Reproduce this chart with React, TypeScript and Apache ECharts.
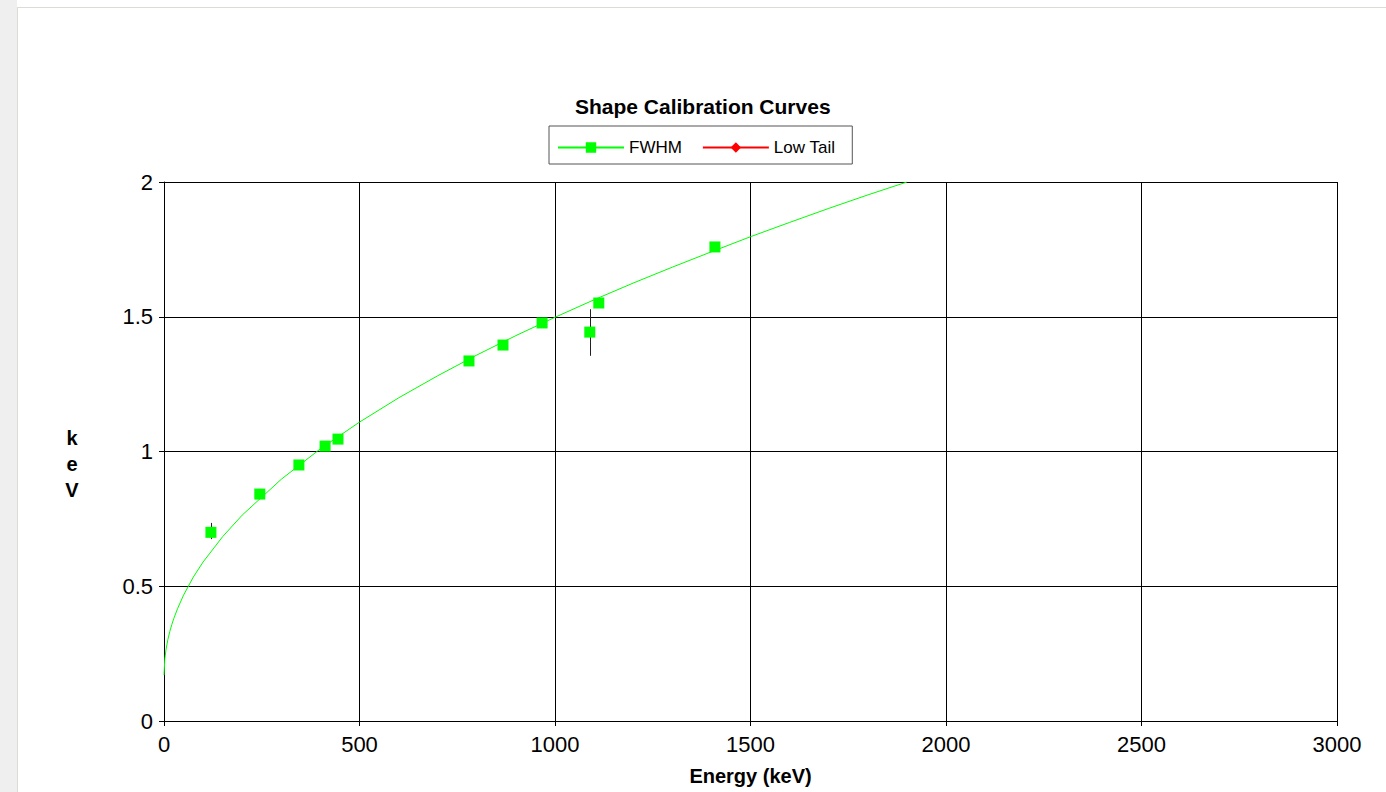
import React, { useEffect, useRef } from "react";
import * as echarts from "echarts";

// Fitted FWHM calibration curve
const curveE = [0, 2, 5, 10, 15, 20, 25, 35, 50, 75, 100, 150, 200, 300, 400, 500, 600, 700, 800, 900, 1000, 1100, 1200, 1300, 1400, 1500, 1600, 1700, 1800, 1900];
const curveKeV = [0.17, 0.229, 0.264, 0.303, 0.333, 0.358, 0.38, 0.418, 0.467, 0.534, 0.59, 0.684, 0.764, 0.897, 1.01, 1.109, 1.199, 1.281, 1.358, 1.43, 1.498, 1.563, 1.625, 1.684, 1.741, 1.797, 1.85, 1.902, 1.952, 2.0];

// Measured FWHM points
const pointE = [120, 245, 345, 412, 445, 780, 867, 967, 1089, 1112, 1409];
const pointKeV = [0.7, 0.842, 0.95, 1.02, 1.046, 1.336, 1.395, 1.477, 1.443, 1.551, 1.759];

// Error bars
const errE = [120, 1089];
const errLo = [0.675, 1.355];
const errHi = [0.735, 1.528];

// Low Tail (no points shown)
const lowTailE: number[] = [];
const lowTailKeV: number[] = [];

const yAxisName = "k\ne\nV";

const FONT = "'Liberation Sans', Arial, sans-serif";

export default function App() {
  const ref = useRef<HTMLDivElement>(null);
  useEffect(() => {
    if (!ref.current) return;
    const chart = echarts.init(ref.current, undefined, { renderer: "svg" });
    const option: any = {
      animation: false,
      backgroundColor: "#ffffff",
      textStyle: { fontFamily: FONT },
      graphic: [
        { type: "rect", shape: { x: 0, y: 0, width: 17, height: 792 }, style: { fill: "#efefef" }, silent: true },
        { type: "line", shape: { x1: 17, y1: 7.5, x2: 1386, y2: 7.5 }, style: { stroke: "#dcdcd4", lineWidth: 1 }, silent: true },
        { type: "line", shape: { x1: 17.5, y1: 7, x2: 17.5, y2: 792 }, style: { stroke: "#dcdcd4", lineWidth: 1 }, silent: true },
        {
          type: "text",
          x: 72,
          y: 464,
          silent: true,
          style: {
            text: yAxisName,
            align: "center",
            verticalAlign: "middle",
            fontFamily: FONT,
            fontSize: 20,
            fontWeight: "bold",
            lineHeight: 26,
            fill: "#000",
          },
        },
      ],
      title: {
        text: "Shape Calibration Curves",
        left: 575,
        top: 96,
        padding: 0,
        textStyle: { fontFamily: FONT, fontSize: 21, fontWeight: "bold", color: "#000" },
      },
      legend: {
        data: ["FWHM", "Low Tail"],
        left: 549,
        top: 126,
        padding: [13, 17, 8, 8],
        itemWidth: 66,
        itemHeight: 13,
        itemGap: 20,
        borderColor: "#555",
        borderWidth: 1,
        textStyle: { fontFamily: FONT, fontSize: 17, color: "#000" },
      },
      grid: { left: 164, right: 49, top: 182, bottom: 71, containLabel: false },
      xAxis: {
        type: "value",
        min: 0,
        max: 3000,
        interval: 500,
        name: "Energy (keV)",
        nameLocation: "middle",
        nameGap: 55,
        nameTextStyle: { fontFamily: FONT, fontSize: 20, fontWeight: "bold", color: "#000", verticalAlign: "middle" },
        axisLine: { show: true, onZero: false, lineStyle: { color: "#000", width: 1 } },
        axisTick: { show: true, length: 5, lineStyle: { color: "#000" } },
        axisLabel: { fontFamily: FONT, fontSize: 22, color: "#000", margin: 12, formatter: (v: number) => String(v) },
        splitLine: { show: true, lineStyle: { color: "#000", width: 1 } },
      },
      yAxis: {
        type: "value",
        min: 0,
        max: 2,
        interval: 0.5,
        axisLine: { show: true, onZero: false, lineStyle: { color: "#000", width: 1 } },
        axisTick: { show: true, length: 5, lineStyle: { color: "#000" } },
        axisLabel: { fontFamily: FONT, fontSize: 22, color: "#000", margin: 11, formatter: (v: number) => String(v) },
        splitLine: { show: true, lineStyle: { color: "#000", width: 1 } },
      },
      series: [
        {
          name: "FWHM",
          type: "line",
          data: curveE.map((e, i) => [e, curveKeV[i]]),
          symbol: "rect",
          showSymbol: false,
          smooth: false,
          color: "#00ff00",
          itemStyle: { color: "#00ff00" },
          lineStyle: { color: "#00ff00", width: 1 },
          z: 2,
        },
        {
          name: "errors",
          type: "custom",
          data: errE.map((e, i) => [e, errLo[i], errHi[i]]),
          renderItem: (params: any, api: any) => {
            const p1 = api.coord([api.value(0), api.value(1)]);
            const p2 = api.coord([api.value(0), api.value(2)]);
            return {
              type: "line",
              shape: { x1: Math.round(p1[0]) + 0.5, y1: p1[1], x2: Math.round(p2[0]) + 0.5, y2: p2[1] },
              style: { stroke: "#222", lineWidth: 1 },
            };
          },
          z: 3,
        },
        {
          name: "FWHM points",
          type: "scatter",
          data: pointE.map((e, i) => [e, pointKeV[i]]),
          symbol: "rect",
          symbolSize: 11,
          itemStyle: { color: "#00ff00", opacity: 1 },
          z: 4,
        },
        {
          name: "Low Tail",
          type: "line",
          data: lowTailE.map((e, i) => [e, lowTailKeV[i]]),
          symbol: "diamond",
          color: "#ff0000",
          itemStyle: { color: "#ff0000" },
          lineStyle: { color: "#ff0000", width: 1 },
        },
      ],
    };
    chart.setOption(option);
    return () => chart.dispose();
  }, []);
  return (
    <div
      ref={ref}
      style={{ position: "fixed", left: 0, top: 0, width: 1386, height: 792 }}
    />
  );
}
